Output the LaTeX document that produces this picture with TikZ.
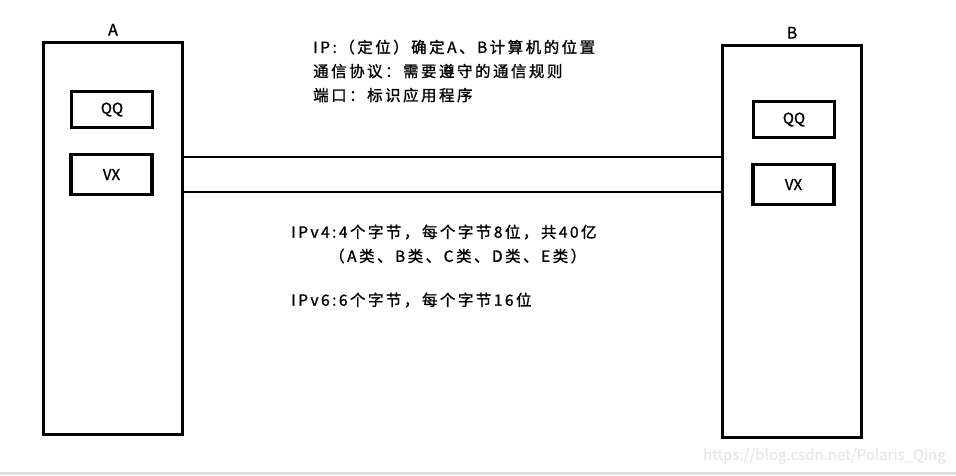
\documentclass[tikz,border=0pt]{standalone}
\usepackage{fontspec}
\setmainfont{Noto Sans CJK SC}[FakeBold=1.2]
\newfontfamily\cjk{Noto Sans CJK SC}[LetterSpace=16,FakeBold=1.2]
\usetikzlibrary{positioning}
\tikzset{
  host/.style={draw,line width=3.4pt,minimum width=139pt,inner sep=0pt},
  app/.style={draw,line width=3.4pt,minimum width=81pt,inner sep=0pt,font=\fontsize{15}{15}\selectfont},
  note/.style={anchor=west,inner sep=0pt,font=\cjk\fontsize{15.5}{24}\selectfont,align=left}
}
\begin{document}
\begin{tikzpicture}[x=1pt,y=-1pt]
            \useasboundingbox (0,0) rectangle (956,475);
            % the two computers
            \node[host,minimum height=392pt] (hostA) at (113,238.5) {};
            \node[host,minimum height=392pt] (hostB) at (792,241.5) {};
            \node[above=5pt of hostA.north,inner sep=0pt,font=\fontsize{16}{16}\selectfont] (labelA) {A};
            \node[above=5pt of hostB.north,inner sep=0pt,font=\fontsize{16}{16}\selectfont] (labelB) {B};
            % programs
            \node[app,minimum height=36pt] (qqA) at (112,109.5) {QQ};
            \node[app,minimum height=40pt] (vxA) at (111.5,174.5) {VX};
            \node[app,minimum height=36pt] (qqB) at (794,119.5) {QQ};
            \node[app,minimum height=40pt] (vxB) at (793.5,184.5) {VX};
            % the link
            \coordinate (wireTop) at (450,157);
            \coordinate (wireBot) at (450,192);
            \draw[line width=2.8pt] (hostA.east |- wireTop) -- (hostB.west |- wireTop);
            \draw[line width=2.8pt] (hostA.east |- wireBot) -- (hostB.west |- wireBot);
            % notes
            \node[note] (ipNote) at (313,71) {IP:（定位）确定A、B计算机的位置\\通信协议：需要遵守的通信规则\\端口：标识应用程序};
            \node[note] (v4Note) at (291,232) {IPv4:4个字节，每个字节8位，共40亿};
            \node[note] (v4Class) at (329,256) {（A类、B类、C类、D类、E类）};
            \node[note] (v6Note) at (291,300) {IPv6:6个字节，每个字节16位};
            % watermark
            \node[anchor=east,inner sep=0pt,text=black!9,font=\fontsize{15}{15}\selectfont] (mark) at (946,456) {https://blog.csdn.net/Polaris\_Qing};
            \fill[black!13] (0,472) rectangle (956,475);
        \end{tikzpicture}
\end{document}
